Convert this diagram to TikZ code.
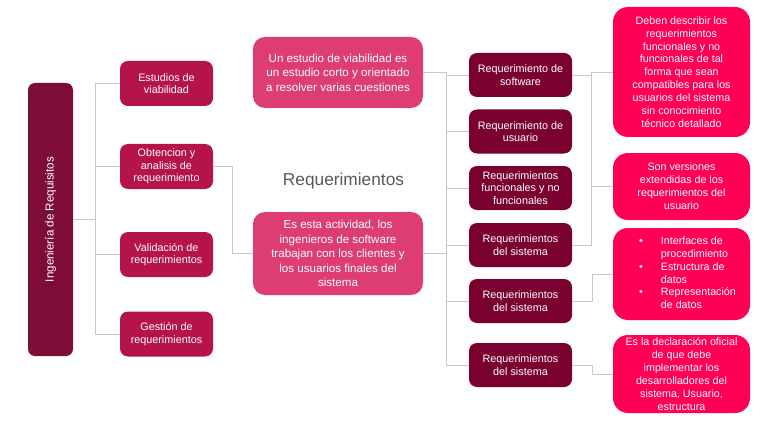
\documentclass[tikz,border=0pt]{standalone}
\usepackage{fontspec}
\setmainfont{Liberation Sans}
\usetikzlibrary{positioning}
\definecolor{mainC}{RGB}{125,13,56}
\definecolor{leftC}{RGB}{181,19,74}
\definecolor{midC}{RGB}{222,61,114}
\definecolor{reqC}{RGB}{122,0,48}
\definecolor{rightC}{RGB}{255,0,84}
\definecolor{lineC}{RGB}{200,200,200}
\definecolor{titleC}{RGB}{90,90,90}
\tikzset{
  box/.style={align=center, text=white, inner sep=0pt},
  leftbox/.style={box, fill=leftC, rounded corners=8pt, minimum width=93pt, minimum height=45pt,
    font=\fontsize{10.8}{12.6}\selectfont},
  midbox/.style={box, fill=midC, rounded corners=12pt, minimum width=170pt,
    font=\fontsize{11.6}{14.5}\selectfont},
  reqbox/.style={box, fill=reqC, rounded corners=8pt, minimum width=103pt, minimum height=44pt,
    font=\fontsize{10.8}{12.6}\selectfont},
  rightbox/.style={box, fill=rightC, rounded corners=15pt, minimum width=137pt,
    font=\fontsize{10.7}{12.9}\selectfont},
  conn/.style={draw=lineC, line width=0.9pt}
}
\begin{document}
\begin{tikzpicture}[x=1pt,y=-1pt]
\fill[white] (0,0) rectangle (768,433);
\useasboundingbox (0,0) rectangle (768,433);

% main vertical box
\node[box, fill=mainC, rounded corners=7pt, minimum width=45pt, minimum height=273pt] (main) at (50.5,219.5) {};
\node[text=white, rotate=90, font=\fontsize{11.6}{13}\selectfont, inner sep=0pt] (maintxt) at (main.center) {Ingeniería de Requisitos};

% left boxes
\node[leftbox] (est) at (166.5,83.5) {Estudios de\\viabilidad};
\node[leftbox] (obt) at (166.5,166.5) {Obtencion y\\analisis de\\requerimiento};
\node[leftbox] (val) at (166.5,254.5) {Validación de\\requerimientos};
\node[leftbox] (ges) at (166.5,334) {Gestión de\\requerimientos};

% middle boxes
\node[midbox, minimum height=71pt] (unest) at (338,72.5) {Un estudio de viabilidad es\\un estudio corto y orientado\\a resolver varias cuestiones};
\node[midbox, minimum height=83pt] (esesta) at (338,253.5) {Es esta actividad, los\\ingenieros de software\\trabajan con los clientes y\\los usuarios finales del\\sistema};
\node[text=titleC, font=\fontsize{17.3}{20}\selectfont, inner sep=0pt] (title) at (343.5,181) {Requerimientos};

% requirement boxes
\node[reqbox] (r1) at (520.5,75) {Requerimiento de\\software};
\node[reqbox] (r2) at (520.5,131.5) {Requerimiento de\\usuario};
\node[reqbox] (r3) at (520.5,188) {Requerimientos\\funcionales y no\\funcionales};
\node[reqbox] (r4) at (520.5,245) {Requerimientos\\del sistema};
\node[reqbox] (r5) at (520.5,301) {Requerimientos\\del sistema};
\node[reqbox] (r6) at (520.5,365) {Requerimientos\\del sistema};

% right boxes
\node[rightbox, minimum height=130pt] (d1) at (681.5,72) {Deben describir los\\requerimientos\\funcionales y no\\funcionales de tal\\forma que sean\\compatibles para los\\usuarios del sistema\\sin conocimiento\\técnico detallado};
\node[rightbox, minimum height=67pt] (d2) at (681.5,186.5) {Son versiones\\extendidas de los\\requerimientos del\\usuario};
\node[rightbox, minimum height=92pt] (d3) at (681.5,274) {\hspace*{12pt}\begin{tabular}{@{}l@{\hspace{18pt}}l@{}}
•& Interfaces de\\ & procedimiento\\
•& Estructura de\\ & datos\\
•& Representación\\ & de datos\end{tabular}};
\node[rightbox, minimum height=78pt] (d4) at (681.5,374) {Es la declaración oficial\\de que debe\\implementar los\\desarrolladores del\\sistema, Usuario,\\estructura};

% connectors: left tree
\draw[conn] (main.east) -- ++(23,0);
\draw[conn] (est.west) -- ++(-24,0) |- (ges.west);
\draw[conn] (obt.west) -- ++(-24,0);
\draw[conn] (val.west) -- ++(-24,0);
\draw[conn] (obt.east) -- ++(19,0) |- (esesta.west);

% connectors: middle bus
\draw[conn] (unest.east) -- ++(23,0) |- (r6.west);
\draw[conn] (esesta.east) -- ++(23,0);
\draw[conn] (r1.west) -- ++(-23,0);
\draw[conn] (r2.west) -- ++(-23,0);
\draw[conn] (r3.west) -- ++(-23,0);
\draw[conn] (r4.west) -- ++(-23,0);
\draw[conn] (r5.west) -- ++(-23,0);

% connectors: right side
\draw[conn] (d1.west) -- ++(-21,0) |- (r4.east);
\draw[conn] (r1.east) -- ++(20,0);
\draw[conn] (d2.west) -- ++(-21,0);
\draw[conn] (r5.east) -- ++(20,0) |- (d3.west);
\draw[conn] (r6.east) -- ++(20,0) |- (d4.west);
\end{tikzpicture}
\end{document}
